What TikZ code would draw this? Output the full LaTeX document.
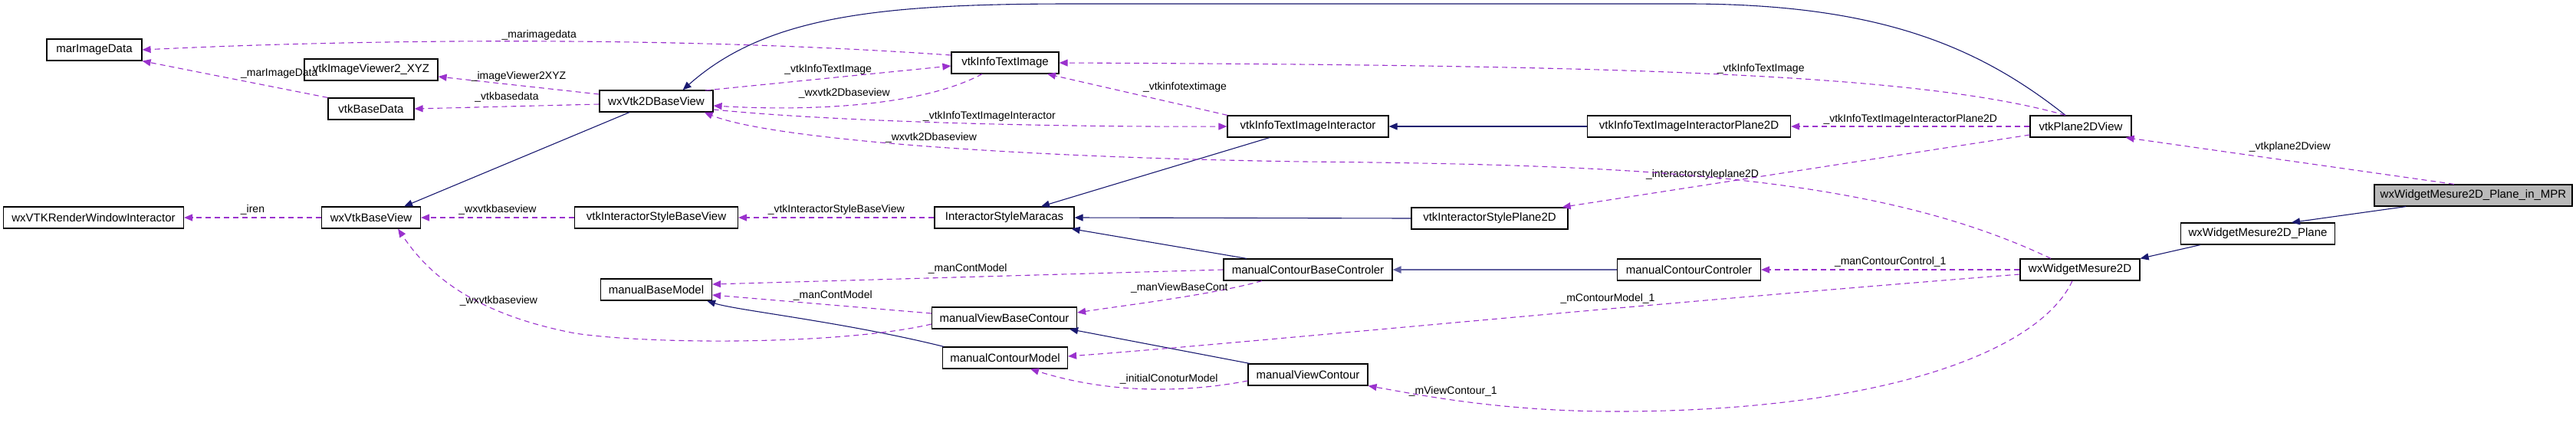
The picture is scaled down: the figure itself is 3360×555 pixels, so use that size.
\documentclass[tikz,border=0pt]{standalone}
\usepackage{fontspec}
\setmainfont{Liberation Sans}
\usetikzlibrary{arrows.meta,positioning}
\definecolor{inh}{HTML}{191970}
\definecolor{use}{HTML}{9A32CD}
\definecolor{inh2}{HTML}{5E5E9E}
\begin{document}
\begin{tikzpicture}[x=1pt,y=-1pt,
  cls/.style={draw=black,line width=1.2pt,fill=white,inner sep=0pt,minimum height=28pt,font=\fontsize{15}{17}\selectfont},
  sel/.style={cls,fill=black!27},
  inhe/.style={draw=inh,line width=1.1pt,{Triangle[length=11pt,width=9pt]}-},
  inhl/.style={inhe,draw=inh2,line width=2pt},
  usee/.style={draw=use,line width=1.1pt,dash pattern=on 7pt off 5pt,-{Triangle[length=11pt,width=9pt]}},
  lab/.style={font=\fontsize{14}{16}\selectfont,inner sep=1pt}]
\useasboundingbox (0,0) rectangle (3360,555);
% nodes
\node[cls,minimum width=124pt] (mar) at (123,65) {marImageData};
\node[cls,minimum width=174pt] (viewer) at (484,91) {vtkImageViewer2\_XYZ};
\node[cls,minimum width=112pt] (base) at (484,142) {vtkBaseData};
\node[cls,minimum width=148pt] (w2d) at (856,132) {wxVtk2DBaseView};
\node[cls,minimum width=235pt] (iren) at (122,284) {wxVTKRenderWindowInteractor};
\node[cls,minimum width=129pt] (wbv) at (484,284) {wxVtkBaseView};
\node[cls,minimum width=213pt] (isbv) at (856,284) {vtkInteractorStyleBaseView};
\node[cls,minimum width=145pt] (mbm) at (856,378) {manualBaseModel};
\node[cls,minimum width=140pt] (iti) at (1311,82) {vtkInfoTextImage};
\node[cls,minimum width=210pt] (itii) at (1706,165) {vtkInfoTextImageInteractor};
\node[cls,minimum width=182pt] (ism) at (1310,284) {InteractorStyleMaracas};
\node[cls,minimum width=204pt] (isp2) at (1943,285) {vtkInteractorStylePlane2D};
\node[cls,minimum width=220pt] (mcbc) at (1706,352) {manualContourBaseControler};
\node[cls,minimum width=189pt] (mvbc) at (1310,415) {manualViewBaseContour};
\node[cls,minimum width=163pt] (mcm) at (1311,467) {manualContourModel};
\node[cls,minimum width=156pt] (mvc) at (1706,489) {manualViewContour};
\node[cls,minimum width=265pt] (itip2) at (2203,165) {vtkInfoTextImageInteractorPlane2D};
\node[cls,minimum width=132pt] (p2v) at (2714,165) {vtkPlane2DView};
\node[cls,minimum width=187pt] (mcc) at (2203,352) {manualContourControler};
\node[cls,minimum width=156pt] (wm) at (2713,352) {wxWidgetMesure2D};
\node[cls,minimum width=201pt] (wmp) at (2945,305) {wxWidgetMesure2D\_Plane};
\node[sel,minimum width=258pt] (mpr) at (3226,255) {wxWidgetMesure2D\_Plane\_in\_MPR};
% inheritance
\draw[inhe] ([xshift=-40pt]w2d.north east) .. controls (1000,20) and (1150,5) .. (1400,5) -- (2200,5) .. controls (2450,5) and (2580,60) .. ([xshift=-20pt]p2v.north);
\draw[inhe] ([xshift=-22pt]wbv.north east) -- ([xshift=-35pt]w2d.south);
\draw[inhe] ([xshift=48pt]ism.north) -- ([xshift=-50pt]itii.south);
\draw[inhe] (ism.east) -- (isp2.west);
\draw[inhe] ([xshift=-4pt]ism.south east) -- ([xshift=-80pt]mcbc.north);
\draw[inhe] (itii.east) -- (itip2.west);
\draw[inhl] (mcbc.east) -- (mcc.west);
\draw[inhe] ([xshift=-7pt]mbm.south east) .. controls (960,405) and (1100,420) .. ([xshift=-80pt]mcm.north);
\draw[inhe] ([xshift=-10pt]mvbc.south east) -- ([xshift=-76pt]mvc.north);
\draw[inhe] ([xshift=44pt]wmp.north) -- ([xshift=-88pt]mpr.south);
\draw[inhe] (wm.north east) -- ([xshift=-75pt]wmp.south);
% usage
\draw[usee] ([yshift=10pt]iti.west) .. controls (900,48) and (500,50) .. (mar.east) node[lab,pos=0.5,above] {\_marimagedata};
\draw[usee] (base.north west) -- (mar.south east) node[lab,midway,above right=0pt and 6pt] {\_marImageData};
\draw[usee] ([yshift=9pt]w2d.west) -- ([yshift=-9pt]viewer.east) node[lab,midway,above=4pt] {\_imageViewer2XYZ};
\draw[usee] ([yshift=-4pt]w2d.west) -- (base.east) node[lab,midway,above=4pt] {\_vtkbasedata};
\draw[usee] ([xshift=64pt,yshift=14pt]w2d.center) -- ([yshift=-4pt]iti.west) node[lab,pos=0.5,above=3pt] {\_vtkInfoTextImage};
\draw[usee] ([xshift=-30pt]iti.south) .. controls (1200,140) and (1050,145) .. ([yshift=-6pt]w2d.east) node[lab,pos=0.55,above=8pt] {\_wxvtk2Dbaseview};
\draw[usee] ([yshift=-11pt]w2d.east) .. controls (1100,160) and (1400,166) .. (itii.west) node[lab,pos=0.55,above=2pt] {\_vtkInfoTextImageInteractor};
\draw[usee] ([xshift=-105pt]itii.north) -- ([xshift=55pt]iti.south) node[lab,midway,above right=2pt and 6pt] {\_vtkinfotextimage};
\draw[usee] ([xshift=-20pt]p2v.north) .. controls (2500,95) and (2100,85) .. (iti.east) node[lab,pos=0.45,above=2pt] {\_vtkInfoTextImage};
\draw[usee] (p2v.west) -- (itip2.east) node[lab,midway,above=1pt] {\_vtkInfoTextImageInteractorPlane2D};
\draw[usee] ([yshift=-11pt]p2v.west) -- ([xshift=-8pt]isp2.north east) node[lab,pos=0.7,above=6pt] {\_interactorstyleplane2D};
\draw[usee] ([xshift=-38pt]wm.north) .. controls (2450,230) and (2150,215) .. (1700,211) .. controls (1300,205) and (1000,180) .. ([xshift=-12pt]w2d.south east) node[lab,pos=0.47,above=3pt] {\_wxvtk2Dbaseview};
\draw[usee] ([xshift=-25pt]mpr.north) -- ([xshift=-8pt]p2v.south east) node[lab,midway,above=10pt] {\_vtkplane2Dview};
\draw[usee] (wm.west) -- (mcc.east) node[lab,midway,above=2pt] {\_manContourControl\_1};
\draw[usee] ([yshift=-6pt]wm.west) .. controls (2100,400) and (1600,450) .. ([yshift=2pt]mcm.east) node[lab,pos=0.35,above=5pt] {\_mContourModel\_1};
\draw[usee] ([xshift=-10pt]wm.south) .. controls (2660,460) and (2450,538) .. (2100,537) .. controls (1950,536) and (1850,515) .. (mvc.south east) node[lab,pos=0.55,above=3pt] {\_mViewContour\_1};
\draw[usee] (isbv.west) -- (wbv.east) node[lab,midway,above=2pt] {\_wxvtkbaseview};
\draw[usee] (wbv.west) -- (iren.east) node[lab,midway,above=2pt] {\_iren};
\draw[usee] (ism.west) -- (isbv.east) node[lab,midway,above=2pt] {\_vtkInteractorStyleBaseView};
\draw[usee] (mcbc.west) -- ([yshift=7pt]mbm.east) node[lab,midway,above=3pt] {\_manContModel};
\draw[usee] ([yshift=6pt]mvbc.west) -- ([yshift=-7pt]mbm.east) node[lab,pos=0.45,above=4pt] {\_manContModel};
\draw[usee] ([yshift=-8pt]mvbc.west) .. controls (1100,450) and (850,450) .. (750,435) .. controls (620,410) and (560,360) .. ([xshift=-30pt]wbv.south east) node[lab,pos=0.3,above=5pt] {\_wxvtkbaseview};
\draw[usee] ([xshift=-60pt]mcbc.south) .. controls (1580,385) and (1470,398) .. ([yshift=7pt]mvbc.east) node[lab,pos=0.45,above=5pt] {\_manViewBaseCont};
\draw[usee] ([yshift=-8pt]mvc.west) .. controls (1550,512) and (1450,515) .. ([xshift=33pt]mcm.south) node[lab,pos=0.4,above=5pt] {\_initialConoturModel};
\end{tikzpicture}
\end{document}
